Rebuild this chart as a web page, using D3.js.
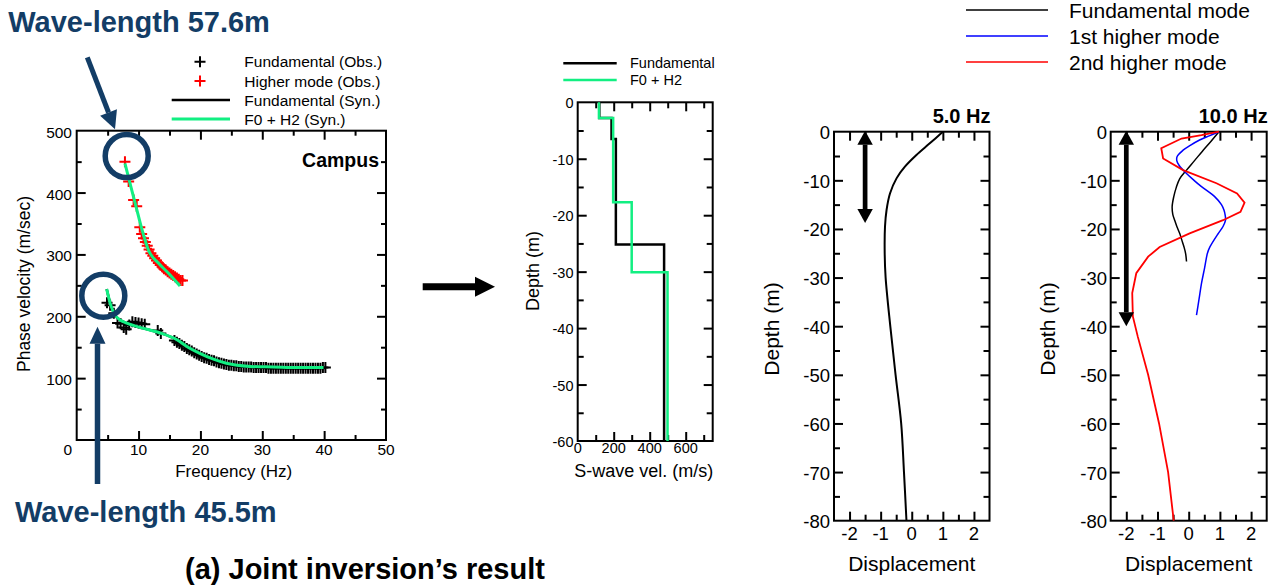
<!DOCTYPE html>
<html><head><meta charset="utf-8">
<script src="https://cdn.jsdelivr.net/npm/d3@7"></script>
<style>body{margin:0;background:#fff}svg{display:block}text{font-family:"Liberation Sans",Arial,sans-serif}</style>
</head><body>
<svg id="c" width="1286" height="588"></svg>
<script>
// ---------- DATA ----------
// Left panel: dispersion curves
const fundObsFreq = [4.9,5.4,6.0,6.6,7.1,7.6,8.0,8.5,9.0,9.5,10.0,10.5,11.0,13.1,13.6,15.8,16.2,16.6,17.0,17.4,17.8,18.2,18.6,19.0,19.4,19.8,20.2,20.6,21.0,21.4,21.8,22.2,22.6,23.0,23.4,23.8,24.2,24.6,25.0,25.4,25.8,26.2,26.6,27.0,27.4,27.8,28.2,28.6,29.0,29.4,29.8,30.2,30.6,31.0,31.4,31.8,32.2,32.6,33.0,33.4,33.8,34.2,34.6,35.0,35.4,35.8,36.2,36.6,37.0,37.4,37.8,38.2,38.6,39.0,39.4,39.8,40.2];
const fundObsVel  = [222,218,205,189,188,182,179,186,191,190,189,188,187,177,172,161,158,156,153,151,148,146,144,141,139,137,135,133,132,130,129,128,126,125,124,123,122,121,121,120,120,119,119,118,118,118,118,117,117,117,117,117,117,116,116,116,116,116,116,116,116,116,116,116,116,116,116,116,116,116,116,116,116,116,116,117,117];
const highObsFreq = [7.8,8.4,9.2,9.7,10.2,10.5,10.8,11.1,11.4,11.7,12.0,12.3,12.6,12.9,13.2,13.5,13.8,14.1,14.4,14.7,15.0,15.3,15.6,15.9,16.2,16.5,16.8,17.1];
const highObsVel  = [450,418,388,378,344,333,326,320,314,308,302,298,294,290,286,283,280,277,275,272,270,268,266,264,262,260,258,258];
const fundSynFreq = [4.85,5.5,6.2,7.0,8.1,10.2,13.5,16.2,18.0,19.9,22.0,24.2,28.0,31.8,36.1,39.9];
const fundSynVel  = [244,218,202,194,189,182,173,162,150,140,131,124,119,118,117,117];
const f0h2FundVel = [244,218,202,194,189,182,173,162,150,140,131,124,119,118,117,117];
const f0h2HighFreq = [7.8,8.9,9.6,10.5,11.6,13.2,14.8,16.7];
const f0h2HighVel  = [447,404,377,342,307,286,270,249];
const leftXTicks = [10,20,30,40,50];
const leftYTicks = [100,200,300,400,500];
const leftLegend = ["Fundamental (Obs.)","Higher mode (Obs.)","Fundamental (Syn.)","F0 + H2 (Syn.)"];

// Middle panel: S-wave profiles (layer velocity, top depth, bottom depth)
const fundLayerVel = [120,188,212,480];
const fundLayerTop = [0,-2.8,-6.5,-25.2];
const fundLayerBot = [-2.8,-6.5,-25.2,-60];
const f0h2LayerVel = [118,197,300,499];
const f0h2LayerTop = [0,-2.8,-17.7,-30.1];
const f0h2LayerBot = [-2.8,-17.7,-30.1,-60];
const midXTicks = [0,200,400,600];
const midYTicks = [0,-10,-20,-30,-40,-50,-60];
const midLegend = ["Fundamental","F0 + H2"];

// Right panels: displacement eigenfunctions
const hz5Depth = [0,-2.4,-4.8,-7.2,-9.6,-12.7,-16.1,-19.5,-25,-30,-40,-50,-60,-70,-80];
const hz5Fund  = [1.0,0.58,0.15,-0.22,-0.49,-0.70,-0.81,-0.86,-0.87,-0.84,-0.69,-0.52,-0.34,-0.25,-0.17];
const hz10FundDepth = [0,-2.0,-4.0,-6.0,-7.9,-9.7,-11.5,-13.4,-15.4,-17.0,-18.2,-19.5,-20.9,-22.3,-23.7,-25.0,-26.7];
const hz10Fund      = [0.97,0.71,0.44,0.18,-0.07,-0.29,-0.40,-0.48,-0.53,-0.51,-0.45,-0.38,-0.29,-0.22,-0.15,-0.10,-0.07];
const hz10H1Depth = [0,-0.8,-1.7,-2.8,-3.8,-5.1,-6.0,-6.9,-8.6,-10.0,-11.3,-13.4,-15.0,-16.1,-17.2,-18.2,-19.5,-20.9,-23.7,-25.0,-28.0,-31.2,-34.5,-37.7];
const hz10H1      = [0.97,0.68,0.35,0.05,-0.18,-0.37,-0.38,-0.31,-0.07,0.17,0.41,0.84,1.05,1.13,1.17,1.18,1.10,0.95,0.68,0.60,0.51,0.41,0.33,0.25];
const hz10H2Depth = [0,-0.7,-1.4,-3.4,-5.5,-7.9,-10.6,-12.7,-14.6,-16.5,-18.2,-20.9,-23.7,-25.7,-29.1,-33.2,-38.0,-42.2,-50,-60,-70,-80];
const hz10H2      = [0.97,0.41,-0.23,-0.88,-0.82,-0.18,0.89,1.55,1.79,1.66,1.10,0.03,-0.93,-1.30,-1.68,-1.81,-1.79,-1.63,-1.30,-0.95,-0.66,-0.48];
const rightXTicks = [-2,-1,0,1,2];
const rightYTicks = [0,-10,-20,-30,-40,-50,-60,-70,-80];
const rightLegend = ["Fundamental mode","1st higher mode","2nd higher mode"];
const arrowDepth5 = [0,-18.8];
const arrowDepth10 = [0,-40];

// ---------- STYLE ----------
const NAVY = "#133d66", GREEN = "#12ef82";
const svg = d3.select("#c");
const fmt = d => String(d);

function ax(g, fn, sc, vals, L, tr){
  g.append("g").attr("transform", tr)
   .call(fn(sc).tickValues(vals).tickSize(-L).tickSizeOuter(0).tickFormat(""))
   .call(s=>{ s.select(".domain").remove(); s.selectAll("line").attr("stroke","#000").attr("stroke-width",2); });
}
function frame(g, x, y, xMaj, xMin, yMaj, yMin, majL, minL){
  const [x0,x1]=x.range(), [y0,y1]=y.range();
  [[xMaj,majL],[xMin,minL]].forEach(([v,L])=>{
    ax(g, d3.axisBottom, x, v, L, `translate(0,${y0})`);
    ax(g, d3.axisTop, x, v, L, `translate(0,${y1})`);
  });
  [[yMaj,majL],[yMin,minL]].forEach(([v,L])=>{
    ax(g, d3.axisLeft, y, v, L, `translate(${x0},0)`);
    ax(g, d3.axisRight, y, v, L, `translate(${x1},0)`);
  });
  g.append("rect").attr("x",x0).attr("y",y1).attr("width",x1-x0).attr("height",y0-y1)
   .attr("fill","none").attr("stroke","#000").attr("stroke-width",2);
}
function arrow(g, x1,y1,x2,y2, w, hl, hw, color, both){
  const dx=x2-x1, dy=y2-y1, len=Math.hypot(dx,dy), ux=dx/len, uy=dy/len, px=-uy, py=ux;
  const sx = both ? x1+ux*hl : x1, sy = both ? y1+uy*hl : y1;
  g.append("line").attr("x1",sx).attr("y1",sy).attr("x2",x2-ux*hl).attr("y2",y2-uy*hl)
   .attr("stroke",color).attr("stroke-width",w);
  const head=(tx,ty,vx,vy)=>{
    const bx=tx-vx*hl, by=ty-vy*hl;
    g.append("path").attr("d",`M${tx},${ty}L${bx+px*hw},${by+py*hw}L${bx-px*hw},${by-py*hw}Z`).attr("fill",color);
  };
  head(x2,y2,ux,uy);
  if(both) head(x1,y1,-ux,-uy);
}
const crossPath = "M-5.5,0H5.5M0,-5.5V5.5";

// ---------- LEFT PANEL ----------
{
  const g = svg.append("g");
  const x = d3.scaleLinear().domain([0,50]).range([76.7,386]);
  const y = d3.scaleLinear().domain([0,500]).range([440,130.7]);
  frame(g, x, y, [10,20,30,40], [5,15,25,35,45], [100,200,300,400], [50,150,250,350,450], 9, 5);
  g.selectAll(".xl").data(leftXTicks).join("text").attr("x",d=>x(d)).attr("y",455)
   .attr("text-anchor","middle").attr("font-size",15.5).text(fmt);
  g.append("text").attr("x",x(0)-9).attr("y",455).attr("text-anchor","middle").attr("font-size",15.5).text("0");
  g.selectAll(".yl").data(leftYTicks).join("text").attr("x",72).attr("y",d=>y(d)+1.5)
   .attr("text-anchor","end").attr("dominant-baseline","central").attr("font-size",15.5).text(fmt);
  g.append("text").attr("x",233.7).attr("y",477.3).attr("text-anchor","middle").attr("font-size",17).text("Frequency (Hz)");
  g.append("text").attr("transform","translate(24,284) rotate(-90)").attr("text-anchor","middle")
   .attr("dominant-baseline","central").attr("font-size",17.5).text("Phase velocity (m/sec)");
  g.append("text").attr("x",379).attr("y",167).attr("text-anchor","end").attr("font-weight","bold").attr("font-size",19.5).text("Campus");
  g.selectAll(".fo").data(fundObsFreq).join("path").attr("d",crossPath)
   .attr("transform",(d,i)=>`translate(${x(d)},${y(fundObsVel[i])})`).attr("stroke","#000").attr("stroke-width",2);
  g.selectAll(".ho").data(highObsFreq).join("path").attr("d",crossPath)
   .attr("transform",(d,i)=>`translate(${x(d)},${y(highObsVel[i])})`).attr("stroke","#ff0000").attr("stroke-width",2);
  const line = d3.line().curve(d3.curveMonotoneX);
  g.append("path").attr("d",line(fundSynFreq.map((f,i)=>[x(f),y(fundSynVel[i])])))
   .attr("fill","none").attr("stroke","#000").attr("stroke-width",2.5);
  g.append("path").attr("d",line(fundSynFreq.map((f,i)=>[x(f),y(f0h2FundVel[i])])))
   .attr("fill","none").attr("stroke",GREEN).attr("stroke-width",3);
  g.append("path").attr("d",line(f0h2HighFreq.map((f,i)=>[x(f),y(f0h2HighVel[i])])))
   .attr("fill","none").attr("stroke",GREEN).attr("stroke-width",3);
  const ly=[61.7,81,100,119];
  g.append("path").attr("d",crossPath).attr("transform",`translate(200,${ly[0]})`).attr("stroke","#000").attr("stroke-width",2);
  g.append("path").attr("d",crossPath).attr("transform",`translate(200,${ly[1]})`).attr("stroke","#ff0000").attr("stroke-width",2);
  g.append("line").attr("x1",171.7).attr("x2",230).attr("y1",ly[2]).attr("y2",ly[2]).attr("stroke","#000").attr("stroke-width",2.5);
  g.append("line").attr("x1",171.7).attr("x2",230).attr("y1",ly[3]).attr("y2",ly[3]).attr("stroke",GREEN).attr("stroke-width",3);
  g.selectAll(".lg").data(leftLegend).join("text").attr("x",244.3).attr("y",(d,i)=>ly[i])
   .attr("dominant-baseline","central").attr("font-size",15.5).text(d=>d);
  g.append("circle").attr("cx",126.7).attr("cy",156).attr("r",21.5).attr("fill","none").attr("stroke",NAVY).attr("stroke-width",5.5);
  g.append("circle").attr("cx",103.3).attr("cy",295.7).attr("r",21.5).attr("fill","none").attr("stroke",NAVY).attr("stroke-width",5.5);
  arrow(g, 87.3,57.3, 115,129.3, 5, 18, 9, NAVY, false);
  arrow(g, 97.5,484, 97.5,326.7, 5.5, 17, 8, NAVY, false);
  g.append("text").attr("x",8.3).attr("y",31.7).attr("font-weight","bold").attr("font-size",29).attr("fill",NAVY).text("Wave-length 57.6m");
  g.append("text").attr("x",15).attr("y",521.7).attr("font-weight","bold").attr("font-size",29).attr("fill",NAVY).text("Wave-length 45.5m");
  g.append("text").attr("x",185).attr("y",579).attr("font-weight","bold").attr("font-size",29).attr("fill","#000").text("(a) Joint inversion\u2019s result");
}

// ---------- ARROW BETWEEN ----------
arrow(svg, 422.7,286.7, 495,286.7, 7, 20, 10, "#000", false);

// ---------- MIDDLE PANEL ----------
{
  const g = svg.append("g");
  const x = d3.scaleLinear().domain([0,750]).range([577.7,712.7]);
  const y = d3.scaleLinear().domain([-60,0]).range([441,102.3]);
  frame(g, x, y, [200,400,600], [100,300,500,700], [-50,-40,-30,-20,-10], [-55,-45,-35,-25,-15,-5], 9, 6);
  g.selectAll(".xl").data(midXTicks).join("text").attr("x",d=>x(d)).attr("y",453)
   .attr("text-anchor","middle").attr("font-size",14.5).text(fmt);
  g.selectAll(".yl").data(midYTicks).join("text").attr("x",573.5).attr("y",d=>y(d)+1)
   .attr("text-anchor","end").attr("dominant-baseline","central").attr("font-size",14.5).text(fmt);
  g.append("text").attr("x",643.8).attr("y",476.7).attr("text-anchor","middle").attr("font-size",18).text("S-wave vel. (m/s)");
  g.append("text").attr("transform","translate(533,271) rotate(-90)").attr("text-anchor","middle")
   .attr("dominant-baseline","central").attr("font-size",18).text("Depth (m)");
  const line = d3.line();
  const prof = (vel, top, bot) => vel.flatMap((v,i)=>[[x(v),y(top[i])],[x(v),y(bot[i])]]);
  g.append("path").attr("d",line(prof(fundLayerVel,fundLayerTop,fundLayerBot)))
   .attr("fill","none").attr("stroke","#000").attr("stroke-width",2.5);
  g.append("path").attr("d",line(prof(f0h2LayerVel,f0h2LayerTop,f0h2LayerBot)))
   .attr("fill","none").attr("stroke",GREEN).attr("stroke-width",2.5);
  const ly=[63.3,80];
  g.append("line").attr("x1",563.3).attr("x2",616.7).attr("y1",ly[0]).attr("y2",ly[0]).attr("stroke","#000").attr("stroke-width",2.5);
  g.append("line").attr("x1",563.3).attr("x2",616.7).attr("y1",ly[1]).attr("y2",ly[1]).attr("stroke",GREEN).attr("stroke-width",2.5);
  g.selectAll(".lg").data(midLegend).join("text").attr("x",630).attr("y",(d,i)=>ly[i])
   .attr("dominant-baseline","central").attr("font-size",14.5).text(d=>d);
}

// ---------- RIGHT PANELS ----------
function dispPanel(x0, x1, title, curves, arrowX, arrowD, labelRight, depthX){
  const g = svg.append("g");
  const x = d3.scaleLinear().domain([-2.5,2.5]).range([x0,x1]);
  const y = d3.scaleLinear().domain([-80,0]).range([520.7,131.7]);
  frame(g, x, y, [-2,-1,0,1,2], [-1.5,-0.5,0.5,1.5], [-70,-60,-50,-40,-30,-20,-10], [-75,-65,-55,-45,-35,-25,-15,-5], 9, 6);
  g.selectAll(".xl").data(rightXTicks).join("text").attr("x",d=>x(d)).attr("y",540)
   .attr("text-anchor","middle").attr("font-size",18.5).text(fmt);
  g.selectAll(".yl").data(rightYTicks).join("text").attr("x",labelRight).attr("y",d=>y(d)+1)
   .attr("text-anchor","end").attr("dominant-baseline","central").attr("font-size",18.5).text(fmt);
  g.append("text").attr("x",(x0+x1)/2).attr("y",571).attr("text-anchor","middle").attr("font-size",21).text("Displacement");
  g.append("text").attr("transform",`translate(${depthX},329) rotate(-90)`).attr("text-anchor","middle")
   .attr("dominant-baseline","central").attr("font-size",21).text("Depth (m)");
  g.append("text").attr("x",x1+1).attr("y",123.3).attr("text-anchor","end").attr("font-weight","bold").attr("font-size",20).text(title);
  curves.forEach(c=>{
    const line = d3.line().curve(c.curve);
    g.append("path").attr("d",line(c.disp.map((v,i)=>[x(v),y(c.depth[i])])))
     .attr("fill","none").attr("stroke",c.color).attr("stroke-width",c.w);
  });
  arrow(g, x(arrowX), y(arrowD[0])-1, x(arrowX), y(arrowD[1]), 4.7, 14, 7.7, "#000", true);
}
dispPanel(834, 989.5, "5.0 Hz",
  [{depth:hz5Depth, disp:hz5Fund, color:"#000", w:2, curve:d3.curveCatmullRom}],
  -1.5, arrowDepth5, 830, 771);
dispPanel(1110.7, 1266.7, "10.0 Hz",
  [{depth:hz10FundDepth, disp:hz10Fund, color:"#000", w:1.5, curve:d3.curveCatmullRom},
   {depth:hz10H1Depth, disp:hz10H1, color:"#0000ff", w:1.5, curve:d3.curveCatmullRom},
   {depth:hz10H2Depth, disp:hz10H2, color:"#ff0000", w:1.8, curve:d3.curveLinear}],
  -2.0, arrowDepth10, 1107, 1047);

// right legend
{
  const colors = ["#000","#0000ff","#ff0000"], ly=[10,36,62];
  const g = svg.append("g");
  g.selectAll("line").data(rightLegend).join("line").attr("x1",966).attr("x2",1048)
   .attr("y1",(d,i)=>ly[i]).attr("y2",(d,i)=>ly[i]).attr("stroke",(d,i)=>colors[i]).attr("stroke-width",1.5);
  g.selectAll("text").data(rightLegend).join("text").attr("x",1069).attr("y",(d,i)=>ly[i])
   .attr("dominant-baseline","central").attr("font-size",21).text(d=>d);
}
</script>
</body></html>
